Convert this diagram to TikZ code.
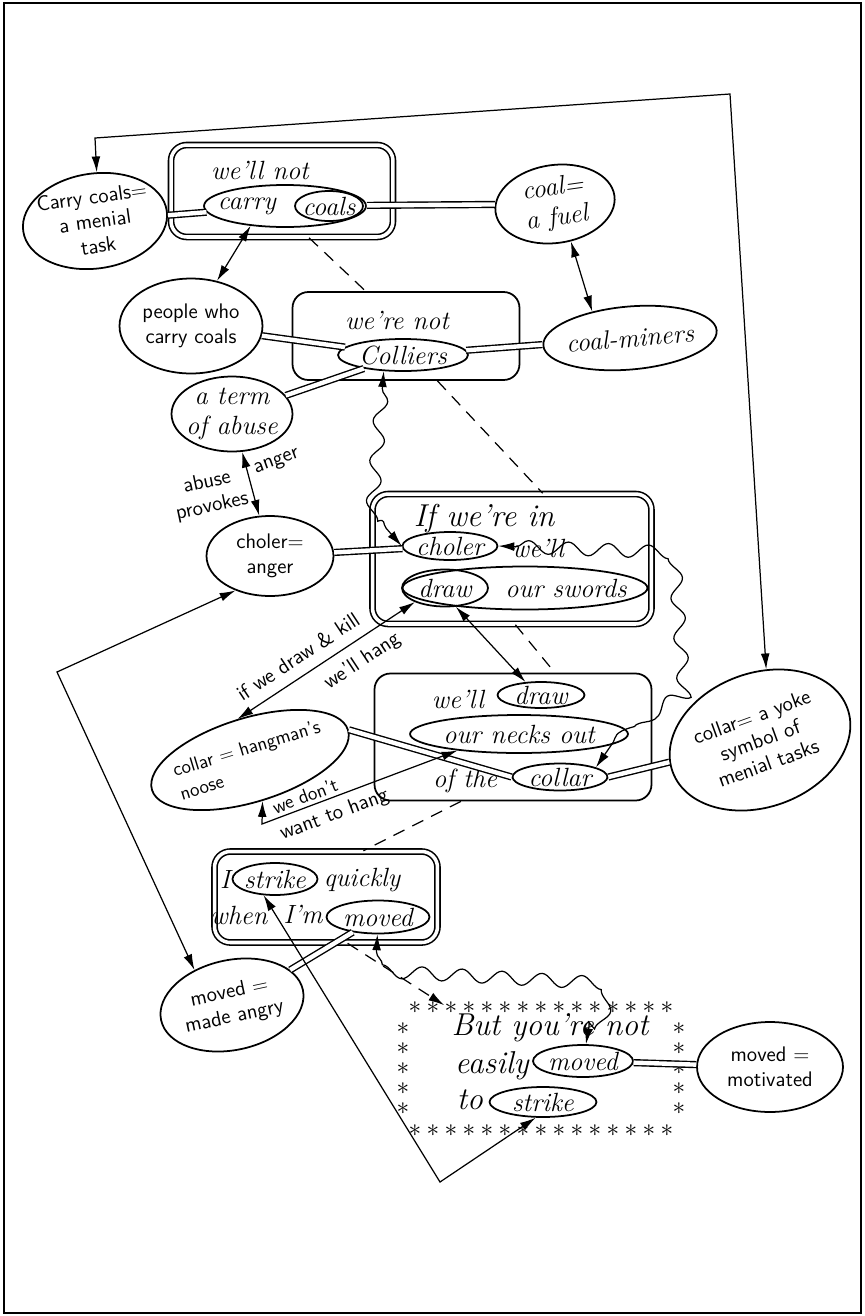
\documentclass[tikz,border=0pt]{standalone}
\usepackage{tikz}
\usetikzlibrary{shapes.geometric, arrows.meta, positioning, decorations.pathmorphing}
\newcommand{\handfont}{\itshape\fontsize{15}{17}\selectfont}
\newcommand{\printfont}{\sffamily\fontsize{12}{14}\selectfont}
\tikzset{
  >={Latex[length=9pt,width=5pt]},
  oval/.style={ellipse, draw, line width=1pt, inner xsep=-14pt, inner ysep=-6pt, align=center},
  ovalH/.style={oval, font=\handfont},
  ovalP/.style={oval, font=\printfont},
  framebox/.style={rectangle, rounded corners=9pt, draw, line width=1pt, inner sep=0pt},
  dframebox/.style={framebox, double, double distance=2pt, line width=0.9pt},
  word/.style={inner sep=0pt, font=\handfont},
  bigword/.style={inner sep=0pt, font=\itshape\fontsize{18}{20}\selectfont},
  printword/.style={inner sep=0pt, font=\printfont, align=center},
  smallword/.style={inner sep=0pt, font=\sffamily\fontsize{11}{13}\selectfont},
  link/.style={double, double distance=2.5pt, line width=0.8pt},
  arrow/.style={<->, line width=0.7pt},
  wavy/.style={arrow, decorate, decoration={snake, amplitude=0.13cm, segment length=0.8cm, pre length=10pt, post length=10pt}},
  dashlink/.style={line width=0.7pt, dash pattern=on 7pt off 5pt},
  asterisk/.style={inner sep=0pt, font=\fontsize{14}{14}\selectfont}
}
\begin{document}
\begin{tikzpicture}[x=0.02cm, y=-0.02cm]
  \useasboundingbox (0,0) rectangle (865,1316);
  % Draw outer frame
  \draw[line width=1.6pt] (4,3) rectangle (861,1313);

  % Box: we'll not carry coals
  \node[dframebox, minimum width=4.44cm, minimum height=1.84cm] (boxA) at (282,191) {};
  \node[word] (txtA) at (260,170) {we'll not};
  \node[oval, minimum width=3.24cm, minimum height=0.84cm] (carryE) at (285,206) {};
  \node[word] (txtCarry) at (247,206) {carry};
  \node[ovalH, minimum width=1.36cm, minimum height=0.6cm] (coalsE) at (329,206) {coals};
  \node[ovalP, minimum width=2.9cm, minimum height=1.9cm, rotate=8] (menialE) at (95,221) {Carry coals=\\a menial\\task};
  \node[ovalH, minimum width=2.4cm, minimum height=1.56cm, rotate=8] (fuelE) at (555,204) {coal=\\a fuel};
  \draw[link] (menialE) -- (carryE);
  \draw[link] (carryE) -- (fuelE);

  % Box: we're not colliers
  \node[framebox, minimum width=4.54cm, minimum height=1.76cm] (boxB) at (406,336) {};
  \node[word] (txtB) at (397,320) {we're not};
  \node[ovalH, minimum width=2.6cm, minimum height=0.64cm] (colliersE) at (403,355) {Colliers};
  \node[ovalP, minimum width=2.86cm, minimum height=1.9cm] (peopleE) at (191,326) {people who\\carry coals};
  \node[ovalH, minimum width=3.48cm, minimum height=1.26cm, rotate=5] (minersE) at (630,338) {coal-miners};
  \node[ovalH, minimum width=2.42cm, minimum height=1.5cm] (abuseE) at (232,414) {a term\\of abuse};
  \draw[link] (peopleE) -- (colliersE);
  \draw[link] (abuseE) -- (colliersE);
  \draw[link] (colliersE) -- (minersE);
  \draw[arrow] (carryE.-150) -- (peopleE.60);
  \draw[arrow] (fuelE.-75) -- (minersE.140);

  % Box: if we're in choler we'll draw
  \node[dframebox, minimum width=5.58cm, minimum height=2.6cm] (boxC) at (512,559) {};
  \node[bigword] (txtC) at (484,519) {If we're in};
  \node[ovalH, minimum width=1.9cm, minimum height=0.56cm] (cholerE) at (450,546) {choler};
  \node[word] (txtWell) at (538,548) {we'll};
  \node[oval, minimum width=4.9cm, minimum height=0.86cm] (swordsE) at (525,588) {};
  \node[word] (txtSwords) at (566,588) {our swords};
  \node[ovalH, minimum width=1.72cm, minimum height=0.74cm] (drawE) at (445,588) {draw};
  \node[ovalP, minimum width=2.54cm, minimum height=1.6cm] (angerE) at (270,556) {choler=\\anger};
  \draw[link] (angerE) -- (cholerE);
  \draw[arrow] (abuseE) -- (angerE)
    node[pos=0.55, left=3pt, printword, rotate=12] (lblProv) {abuse\\provokes}
    node[pos=0.3, right=4pt, printword, rotate=20] (lblAnger) {anger};
  \coordinate (collBend) at (372,512);
  \draw[wavy] (colliersE.-140) -- (collBend) -- (cholerE.west);

  % Box: we'll draw our necks out of the collar
  \node[framebox, minimum width=5.54cm, minimum height=2.54cm] (boxD) at (513,737) {};
  \node[word] (txtD) at (458,699) {we'll};
  \node[ovalH, minimum width=1.74cm, minimum height=0.52cm] (drawDE) at (541,695) {draw};
  \node[ovalH, minimum width=4.36cm, minimum height=0.76cm] (necksE) at (519,734) {our necks out};
  \node[word] (txtOf) at (465,781) {of the};
  \node[ovalH, minimum width=1.9cm, minimum height=0.54cm] (collarE) at (560,777) {collar};
  \node[oval, font=\sffamily\fontsize{11}{14}\selectfont, align=left, minimum width=4.1cm, minimum height=1.68cm, rotate=17] (nooseE) at (250,760) {collar = hangman's\\noose};
  \node[ovalP, minimum width=3.72cm, minimum height=2.68cm, rotate=20] (yokeE) at (760,740) {collar= a yoke\\symbol of\\menial tasks};
  \draw[link] (nooseE.east) -- (collarE.west);
  \draw[link] (collarE.east) -- (yokeE);
  \draw[arrow] (drawE.-60) -- (drawDE.140);
  \draw[arrow] (drawE.205) -- (nooseE.north)
    node[pos=0.6, above=6pt, sloped, printword] (lblKill) {if we draw \& kill}
    node[pos=0.36, below=6pt, sloped, printword] (lblHang) {we'll hang};
  \coordinate (nooseBend) at (262,824);
  \draw[arrow] (nooseE.south) -- (nooseBend) --
    node[pos=0.24, above=2pt, sloped, smallword] (lblDont) {we don't}
    node[pos=0.34, below=4pt, sloped, printword] (lblWant) {want to hang}
    (necksE.-165);
  \coordinate (cholBendA) at (662,552);
  \coordinate (cholBendB) at (672,690);
  \coordinate (cholBendC) at (634,712);
  \draw[wavy] (cholerE.east) -- (cholBendA) -- (cholBendB) -- (cholBendC) -- (collarE.15);

  % Box: I strike quickly when I'm moved
  \node[dframebox, minimum width=4.46cm, minimum height=1.82cm] (boxE) at (326,897) {};
  \node[word] (txtI) at (225,879) {I};
  \node[ovalH, minimum width=1.7cm, minimum height=0.64cm] (strikeE) at (275,879) {strike};
  \node[word] (txtQuick) at (362,880) {quickly};
  \node[word] (txtWhen) at (239,915) {when};
  \node[word] (txtIm) at (303,914) {I'm};
  \node[ovalH, minimum width=2.06cm, minimum height=0.66cm] (movedEE) at (378,917) {moved};
  \node[ovalP, minimum width=2.9cm, minimum height=1.8cm, rotate=12] (angryE) at (232,1005) {moved =\\made angry};
  \draw[link] (movedEE) -- (angryE);

  % Starred box: but you're not easily moved to strike
  \node[minimum width=5.5cm, minimum height=2.5cm] (boxF) at (541,1068) {};
  \foreach \x in {415,433,...,672} {
    \node[asterisk] at (\x,1008) {$\ast$};
    \node[asterisk] at (\x,1131) {$\ast$};
  }
  \foreach \y in {1029,1049,...,1112} {
    \node[asterisk] at (403,\y) {$\ast$};
    \node[asterisk] at (679,\y) {$\ast$};
  }
  \node[bigword] (txtF) at (550,1028) {But you're not};
  \node[bigword] (txtEasily) at (492,1066) {easily};
  \node[ovalH, minimum width=2cm, minimum height=0.64cm] (movedFE) at (583,1061) {moved};
  \node[bigword] (txtTo) at (470,1100) {to};
  \node[ovalH, minimum width=2.14cm, minimum height=0.6cm] (strikeFE) at (543,1102) {strike};
  \node[ovalP, minimum width=2.92cm, minimum height=1.8cm] (motivE) at (770,1067) {moved =\\motivated};
  \draw[link] (movedFE) -- (motivE);
  \coordinate (movedBendA) at (376,962);
  \coordinate (movedBendB) at (598,974);
  \draw[wavy] (movedEE.-92) -- (movedBendA) -- (movedBendB) -- (movedFE.80);

  % Long connectors
  \coordinate (topBendL) at (95,138);
  \coordinate (topBendR) at (730,94);
  \draw[arrow] (menialE.80) -- (topBendL) -- (topBendR) -- (yokeE.65);
  \coordinate (leftBend) at (57,672);
  \draw[arrow] (angerE.-135) -- (leftBend) -- (angryE.125);
  \coordinate (bottomBend) at (440,1182);
  \draw[arrow] (strikeE.-125) -- (bottomBend) -- (strikeFE.-115);

  % Dashed chain between boxes
  \draw[dashlink] (boxA.-60) -- (boxB.132);
  \draw[dashlink] (boxB.-55) -- (boxC.65);
  \draw[dashlink] (boxC.-87) -- (boxD.57);
  \draw[dashlink] (boxD.-129) -- (boxE.51);
  \draw[dashlink, ->] (boxE.-65) -- (boxF.147);
\end{tikzpicture}
\end{document}
